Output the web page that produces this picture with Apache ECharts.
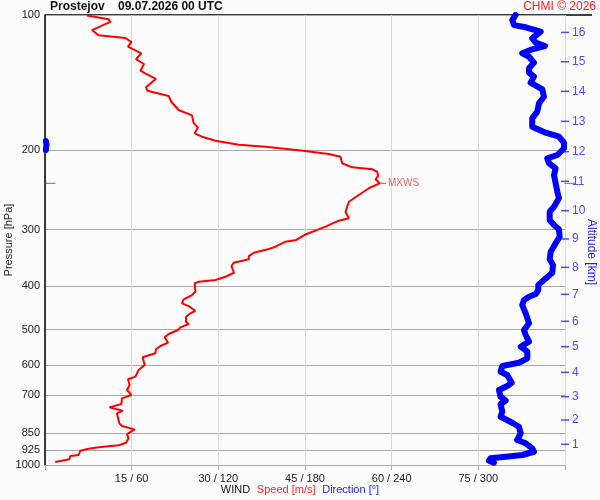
<!DOCTYPE html>
<html>
<head>
<meta charset="utf-8">
<script src="https://cdn.jsdelivr.net/npm/echarts@6/dist/echarts.min.js"></script>
<style>
html, body { margin: 0; padding: 0; background: #fbfbfb; }
#main { width: 600px; height: 500px; }
</style>
</head>
<body>
<div id="main"></div>
<script>
// pressure levels with labels / grid lines
var pressureTicks = [100, 200, 300, 400, 500, 600, 700, 850, 925, 1000];
// speed ticks that get a "speed / direction" label
var speedTicks = [15, 30, 45, 60, 75];
// altitude scale (km) and the pressure where each km tick sits
var altKm = [1, 2, 3, 4, 5, 6, 7, 8, 9, 10, 11, 12, 13, 14, 15, 16];
var altP = [899.5, 794.3, 705.0, 622.5, 545.9, 479.3, 417.6, 363.7, 314.6, 272.2, 234.2, 201.3, 172.3, 147.8, 127.0, 109.3];

// wind speed profile [hPa] / [m/s]
var speedP = [100.2, 102.2, 103.6, 108.0, 109.1, 110.9, 112.5, 114.8, 117.6, 121.7, 125.4, 128.5, 133.0, 135.2, 138.6, 144.8, 147.3, 151.4, 156.1, 162.6,
  167.1, 174.1, 177.7, 183.2, 186.4, 190.3, 194.2, 196.2, 199.8, 203.6, 206.5, 213.5, 218.0, 220.2, 222.9, 227.9, 231.8, 236.6, 242.7, 251.2,
  260.0, 273.6, 283.0, 286.5, 295.4, 307.4, 316.2, 319.0, 327.3, 331.7, 337.5, 343.3, 349.1, 355.2, 361.3, 373.9, 381.6, 388.1, 391.5, 394.7,
  412.1, 419.1, 428.4, 437.3, 443.4, 454.2, 460.2, 468.3, 480.4, 486.1, 494.4, 501.2, 511.5, 520.2, 534.8, 544.0, 553.3, 564.7, 576.4, 599.4,
  614.9, 636.4, 645.0, 664.0, 681.3, 699.0, 711.0, 732.1, 744.6, 757.6, 767.8, 808.0, 819.3, 833.3, 853.5, 872.5, 892.3, 904.3, 913.7, 920.3,
  929.7, 950.1, 955.0, 971.2, 984.7];
var speedVal = [7.26, 11.02, 11.31, 8.12, 8.02, 9.28, 13.91, 14.95, 14.36, 16.68, 15.74, 17.13, 16.51, 17.48, 19.21, 17.48, 17.72, 21.41, 21.88, 23.14,
  25.44, 25.74, 26.48, 25.91, 27.18, 29.50, 33.53, 38.16, 43.93, 49.12, 51.15, 51.43, 53.16, 56.62, 57.49, 57.66, 57.21, 57.90, 56.05, 54.32,
  52.59, 52.01, 52.59, 50.85, 48.55, 45.09, 43.49, 41.62, 39.89, 38.56, 36.13, 35.27, 35.27, 32.67, 32.27, 32.72, 31.23, 29.50, 26.61, 25.91,
  26.03, 25.44, 24.01, 23.71, 24.87, 26.03, 25.17, 24.40, 24.40, 24.87, 23.43, 23.02, 21.41, 20.72, 21.29, 19.97, 19.21, 19.10, 16.90, 17.25,
  16.21, 15.64, 14.36, 14.65, 14.19, 14.95, 13.32, 13.22, 11.14, 13.44, 12.45, 12.87, 13.32, 15.52, 14.19, 14.48, 14.01, 12.75, 9.28, 7.55,
  6.11, 5.82, 4.38, 4.21, 1.78];

// wind direction profile [hPa] / [deg]
var dirP = [100.0, 102.6, 105.3, 106.5, 108.9, 112.7, 115.2, 117.2, 119.2, 121.7, 123.8, 127.6, 131.3, 134.3, 137.1, 141.4, 146.3, 151.9, 157.1, 164.0,
  169.7, 177.1, 182.6, 186.4, 192.2, 197.8, 204.7, 208.2, 213.5, 219.1, 226.7, 236.6, 247.0, 255.5, 266.7, 273.6, 285.5, 292.9, 299.4, 311.0,
  321.7, 335.7, 349.1, 359.4, 373.9, 388.1, 398.1, 408.5, 416.9, 422.7, 429.9, 441.1, 460.2, 484.3, 501.2, 514.2, 532.1, 545.9, 560.0, 579.4,
  592.6, 602.6, 620.5, 631.0, 656.4, 667.6, 681.3, 705.0, 719.6, 732.1, 761.6, 781.3, 805.4, 822.1, 850.4, 879.9, 894.9, 918.4, 934.4, 950.1,
  958.6, 966.3, 978.2, 988.3];
var dirVal = [325.8, 323.5, 324.7, 332.8, 343.2, 337.3, 339.7, 346.1, 337.3, 330.4, 335.1, 338.5, 335.1, 335.1, 338.5, 336.2, 344.3, 345.4, 342.0, 340.8,
  337.3, 337.3, 346.6, 355.8, 359.3, 359.3, 354.7, 347.7, 348.9, 353.5, 352.4, 353.5, 354.7, 355.8, 352.4, 349.4, 349.4, 352.4, 355.8, 356.3,
  353.5, 350.1, 349.4, 351.7, 351.2, 345.4, 341.5, 341.5, 339.7, 335.1, 331.6, 330.4, 332.8, 335.1, 331.6, 332.8, 335.1, 329.3, 333.9, 333.9,
  328.1, 316.6, 315.4, 320.0, 323.1, 320.0, 314.3, 315.4, 318.9, 315.4, 316.6, 315.4, 323.5, 328.1, 329.3, 326.9, 332.8, 337.3, 338.5, 330.4,
  318.9, 308.5, 307.3, 310.8];
// short piece where the direction wraps past 360
var dirWrapP = [190.5, 194.0, 199.5];
var dirWrapVal = [0.6, 1.0, 0.6];

function zip(a, b) {
  return a.map(function (v, i) { return [v, b[i]]; });
}

var maxIdx = speedVal.indexOf(Math.max.apply(null, speedVal));
var maxPoint = [speedVal[maxIdx], speedP[maxIdx]];

var myChart = echarts.init(document.getElementById('main'));
var option = {
  backgroundColor: '#fbfbfb',
  animation: false,
  textStyle: { fontFamily: 'Liberation Sans, Arial, sans-serif' },
  title: [
    {
      text: 'Prostejov    09.07.2026 00 UTC',
      left: 50, top: 1, padding: 0,
      textStyle: { fontSize: 12, fontWeight: 'bold', color: '#111' }
    },
    {
      text: 'CHMI © 2026',
      right: 4, top: 1, padding: 0,
      textStyle: { fontSize: 12, fontWeight: 'normal', color: '#ff2020' }
    }
  ],
  grid: { left: 45, right: 35, top: 15, bottom: 35, containLabel: false, outerBoundsMode: 'none' },
  xAxis: [
    {
      type: 'value', min: 0, max: 90, interval: 15,
      axisLine: { show: false },
      axisTick: { show: true, length: 5, lineStyle: { color: '#b0b0b0' } },
      axisLabel: {
        margin: 8, fontSize: 11, color: '#222',
        formatter: function (v) {
          return speedTicks.indexOf(v) >= 0 ? v + ' / ' + v * 4 : '';
        }
      },
      splitLine: { show: true, lineStyle: { color: '#d8d8d8' } }
    },
    { type: 'value', min: 0, max: 360, show: false }
  ],
  yAxis: {
    type: 'log', logBase: 10, min: 100, max: 1000, inverse: true,
    name: 'Pressure [hPa]', nameLocation: 'middle', nameGap: 31,
    nameMoveOverlap: false,
    nameTextStyle: { fontSize: 11, color: '#222' },
    axisLine: { show: true, lineStyle: { color: '#000', width: 1.5 } },
    axisTick: { show: false, customValues: pressureTicks },
    axisLabel: {
      customValues: pressureTicks, fontSize: 11, color: '#222', margin: 5,
      formatter: function (v) { return String(Math.round(v)); }
    },
    splitLine: { show: true, lineStyle: { color: '#a8a8a8' } },
    minorSplitLine: { show: false }
  },
  graphic: [
    { type: 'line', shape: { x1: 45, y1: 15, x2: 592, y2: 15 }, style: { stroke: '#000', lineWidth: 1.5 } },
    {
      type: 'text', left: 'center', top: 484,
      style: {
        text: '{a|WIND}  {b|Speed [m/s]}  {c|Direction [°]}',
        rich: {
          a: { fontSize: 11, fill: '#111', fontFamily: 'Liberation Sans' },
          b: { fontSize: 11, fill: '#ff2020', fontFamily: 'Liberation Sans' },
          c: { fontSize: 11, fill: '#2020ff', fontFamily: 'Liberation Sans' }
        }
      }
    },
    {
      type: 'text', x: 591, y: 252, rotation: -Math.PI / 2,
      style: {
        text: 'Altitude [km]', fontSize: 12, fill: '#2020ff',
        fontFamily: 'Liberation Sans', align: 'center', verticalAlign: 'middle'
      }
    }
  ],
  series: [
    {
      name: 'Speed', type: 'line', xAxisIndex: 0, z: 3,
      data: zip(speedVal, speedP),
      showSymbol: false, symbol: 'none',
      lineStyle: { color: '#ff0000', width: 2 }
    },
    {
      name: 'Direction', type: 'line', xAxisIndex: 1, z: 4,
      data: zip(dirVal, dirP),
      showSymbol: false, symbol: 'none',
      lineStyle: { color: '#0000ff', width: 6, cap: 'round', join: 'round' }
    },
    {
      name: 'DirectionWrap', type: 'line', xAxisIndex: 1, z: 4,
      data: zip(dirWrapVal, dirWrapP),
      showSymbol: false, symbol: 'none',
      lineStyle: { color: '#0000ff', width: 6, cap: 'round', join: 'round' }
    },
    {
      name: 'MXWS', type: 'scatter', xAxisIndex: 0, z: 5,
      data: [maxPoint],
      symbol: 'rect', symbolSize: [7, 1], symbolOffset: [3, 0],
      itemStyle: { color: '#ff0000' },
      label: { show: true, position: 'right', distance: 2, formatter: 'MXWS', fontSize: 10, color: '#e04040' }
    },
    {
      name: 'MXWS level', type: 'scatter', xAxisIndex: 0, z: 5,
      data: [[0, maxPoint[1]], [90, maxPoint[1]]],
      symbol: 'rect', symbolSize: [11, 1],
      symbolOffset: [5, 0],
      itemStyle: { color: '#ff0000' }
    },
    {
      name: 'Altitude', type: 'scatter', xAxisIndex: 0, z: 5,
      data: altP.map(function (p, i) { return { value: [90, p], name: String(altKm[i]) }; }),
      symbol: 'rect', symbolSize: [8, 1.5],
      itemStyle: { color: '#2020ff' },
      label: { show: true, position: 'right', distance: 3, formatter: '{b}', fontSize: 12, color: '#2020ff' }
    }
  ]
};
myChart.setOption(option);
window.addEventListener('resize', function () {
  myChart.resize();
});
</script>
</body>
</html>
